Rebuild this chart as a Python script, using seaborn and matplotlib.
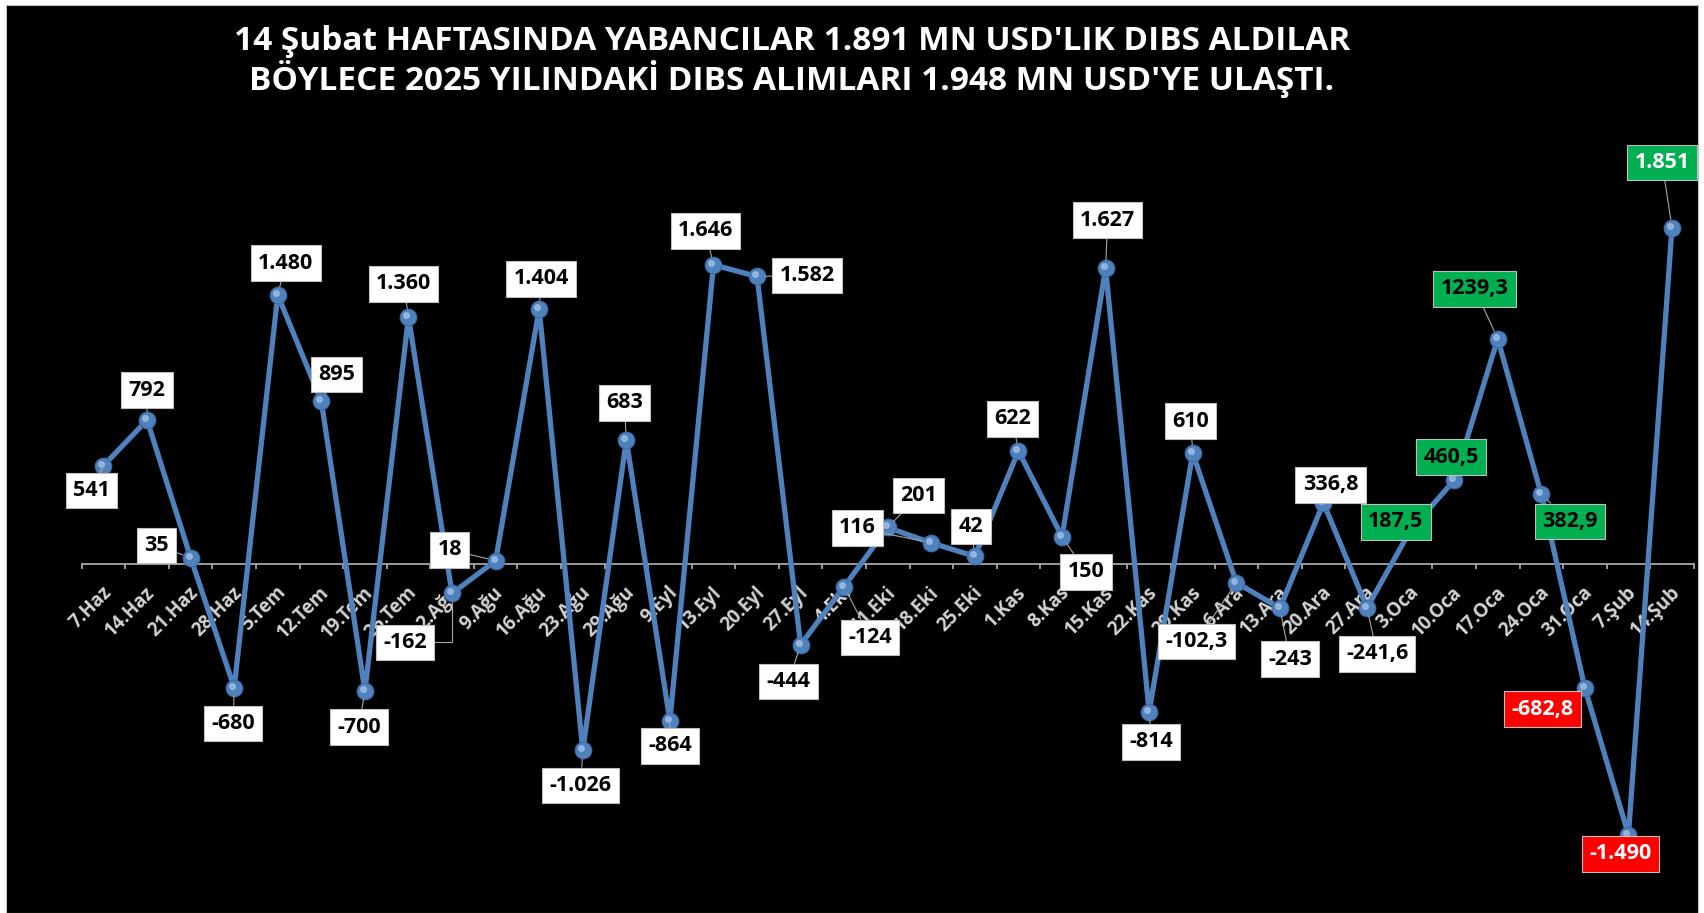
"""Weekly foreign DIBS flows (mn USD), Excel-style black chart with boxed labels."""

import matplotlib

matplotlib.use("Agg")
import matplotlib.pyplot as plt
import matplotlib.transforms as mtransforms
import numpy as np
import pandas as pd
import seaborn as sns
from matplotlib.patches import Rectangle

# === Data === #
weeks = [
    "7.Haz", "14.Haz", "21.Haz", "28.Haz", "5.Tem", "12.Tem", "19.Tem", "26.Tem",
    "2.Ağu", "9.Ağu", "16.Ağu", "23.Ağu", "29.Ağu", "9.Eyl", "13.Eyl", "20.Eyl",
    "27.Eyl", "4.Eki", "11.Eki", "18.Eki", "25.Eki", "1.Kas", "8.Kas", "15.Kas",
    "22.Kas", "29.Kas", "6.Ara", "13.Ara", "20.Ara", "27.Ara", "3.Oca", "10.Oca",
    "17.Oca", "24.Oca", "31.Oca", "7.Şub", "14.Şub",
]
flows = [
    541, 792, 35, -680, 1480, 895, -700, 1360,
    -162, 18, 1404, -1026, 683, -864, 1646, 1582,
    -444, -124, 201, 116, 42, 622, 150, 1627,
    -814, 610, -102.3, -243, 336.8, -241.6, 187.5, 460.5,
    1239.3, 382.9, -682.8, -1490, 1851,
]
title_lines = [
    "14 Şubat HAFTASINDA YABANCILAR 1.891 MN USD'LIK DIBS ALDILAR",
    "BÖYLECE 2025 YILINDAKİ DIBS ALIMLARI 1.948 MN USD'YE ULAŞTI.",
]

# label box placement relative to its point (pixels, x right / y down)
label_offsets = [
    (-12, 25), (0, -30), (-34, -12), (-1, 36), (8, -32), (15, -27), (-6, 36), (-5, -33),
    (-47, 49), (-46, -11), (2, -30), (-2, 35), (-2, -37), (0, 25), (-8, -34), (50, -1),
    (-12, 37), (26, 51), (31, -32), (-74, -15), (-4, -30), (-6, -32), (24, 35), (2, -48),
    (2, 30), (-2, -32), (-40, 59), (10, 51), (7, -18), (10, 46), (-15, -8), (-3, -23),
    (-23, -50), (29, 27), (-42, 21), (-8, 19), (-10, -65),
]
# box colours: white for old weeks, green / red for the 2025 weeks
box_faces = ["white"] * 30 + ["#00b050"] * 4 + ["#ff0000"] * 2 + ["#00b050"]
box_texts = ["black"] * 34 + ["white"] * 3


def fmt_tr(v):
    if float(v).is_integer():
        return f"{int(v):,}".replace(",", ".")
    return f"{v:.1f}".replace(".", ",")


W, H = 1704, 913
sns.set_theme(style="dark")
plt.rcParams["font.family"] = ["Open Sans", "DejaVu Sans"]

fig = plt.figure(figsize=(W / 100, H / 100), dpi=100, facecolor="white")
fig.patches.append(
    Rectangle(
        (6 / W, 0), (1698 - 6) / W, (H - 5) / H,
        transform=fig.transFigure, facecolor="black", edgecolor="#bfbfbf",
        lw=0.8, zorder=-10,
    )
)

# axes mapped so that zero sits at y=564 px and categories are 43.57 px wide
ax = fig.add_axes([81.7 / W, (H - 900) / H, (1693.8 - 81.7) / W, (900 - 130) / H])
ax.set_facecolor("none")

df = pd.DataFrame({"pos": np.arange(len(weeks)), "flow": flows})
sns.lineplot(
    data=df, x="pos", y="flow", ax=ax, sort=False,
    color="#4f81bd", linewidth=3.8, marker="o", markersize=12,
    markerfacecolor="#4f81bd", markeredgecolor="#3c6ba8", markeredgewidth=0.8,
    zorder=3,
)
# small highlight to give the markers a glossy look
hl = mtransforms.ScaledTranslation(-2 / 100, 2 / 100, fig.dpi_scale_trans)
ax.plot(df["pos"], df["flow"], ls="none", marker="o", markersize=4,
        color="#a9c6ea", alpha=0.7, transform=ax.transData + hl, zorder=4)

ax.set_xlim(-0.5, len(weeks) - 0.5)
ax.set_ylim(-1849, 2388)
ax.set_xlabel("")
ax.set_ylabel("")
ax.set_yticks([])
ax.grid(False)
for side in ("left", "right", "top"):
    ax.spines[side].set_visible(False)
ax.spines["bottom"].set_position(("data", 0))
ax.spines["bottom"].set_color("#a6a6a6")
ax.spines["bottom"].set_linewidth(1.3)

ax.set_xticks(df["pos"])
ax.set_xticklabels(
    weeks, rotation=45, ha="right", va="center", rotation_mode="anchor",
    color="#d4d4d4", fontsize=13.5, fontweight="bold",
)
ax.set_xticks(np.arange(-0.5, len(weeks)), minor=True)
ax.tick_params(axis="x", which="major", length=0, pad=18.5)
ax.tick_params(axis="x", which="minor", length=3.6, width=1.3, color="#a6a6a6",
               direction="out", bottom=True)
shift = mtransforms.ScaledTranslation(5 / 100, 0, fig.dpi_scale_trans)
for lbl in ax.get_xticklabels():
    lbl.set_transform(lbl.get_transform() + shift)

# === Data labels === #
for i, v in enumerate(flows):
    dx, dy = label_offsets[i]
    conn = "angle,angleA=0,angleB=90,rad=0" if i == 8 else "arc3"
    ax.annotate(
        fmt_tr(v), xy=(i, v), xytext=(dx, -dy), textcoords="offset pixels",
        ha="center", va="center", fontsize=15.5, fontweight="bold",
        color=box_texts[i],
        bbox=dict(boxstyle="square,pad=0.34", fc=box_faces[i], ec="#bfbfbf", lw=0.8),
        arrowprops=dict(arrowstyle="-", color="#a6a6a6", lw=0.8,
                        shrinkA=0, shrinkB=6, connectionstyle=conn),
        zorder=5, annotation_clip=False,
    )

fig.text(792 / W, 1 - 41 / H, title_lines[0], ha="center", va="center",
         color="white", fontsize=24, fontweight="bold")
fig.text(792 / W, 1 - 79 / H, title_lines[1], ha="center", va="center",
         color="white", fontsize=24, fontweight="bold")

fig.savefig("out.png", dpi=100, facecolor=fig.get_facecolor())
plt.close(fig)
